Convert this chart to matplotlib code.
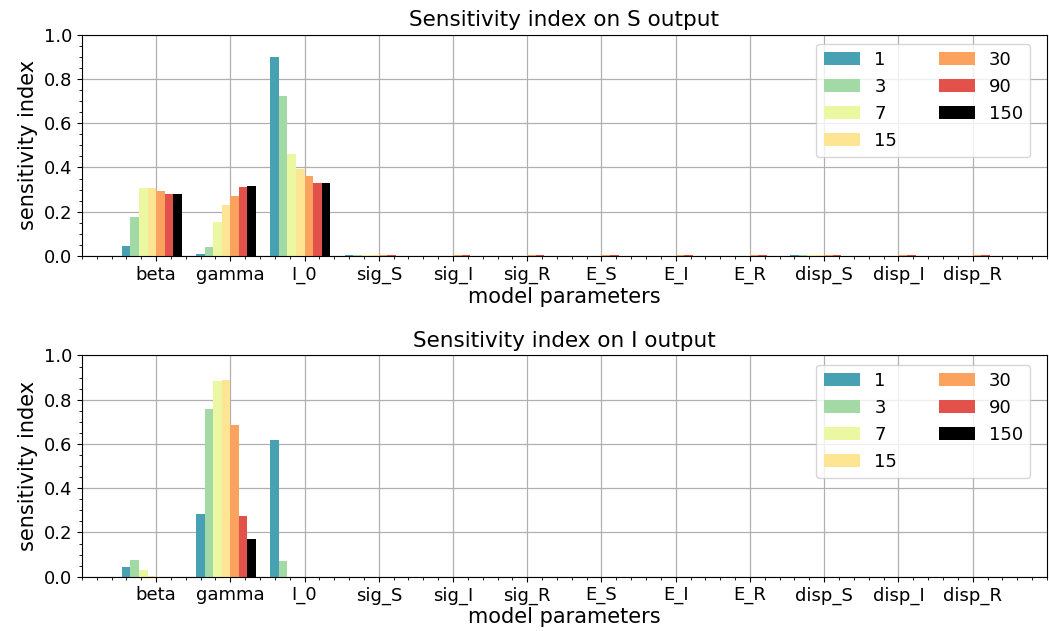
import numpy as np
import matplotlib.pyplot as plt

params = ["beta", "gamma", "I_0", "sig_S", "sig_I", "sig_R",
          "E_S", "E_I", "E_R", "disp_S", "disp_I", "disp_R"]
days = ["1", "3", "7", "15", "30", "90", "150"]
colors = ["#48a0b3", "#a3d9a4", "#ebf7a1", "#fde593", "#fba35e", "#e2524b", "#000000"]

# sensitivity on S output, one row per day
s_index = [
    [0.044, 0.008, 0.900, 0.002, 0.001, 0.001, 0.001, 0.001, 0.001, 0.002, 0.001, 0.001],
    [0.175, 0.039, 0.724, 0.002, 0.001, 0.001, 0.001, 0.001, 0.001, 0.002, 0.001, 0.001],
    [0.307, 0.153, 0.461, 0.002, 0.001, 0.001, 0.001, 0.001, 0.001, 0.002, 0.001, 0.001],
    [0.307, 0.230, 0.393, 0.002, 0.001, 0.001, 0.001, 0.001, 0.001, 0.002, 0.001, 0.001],
    [0.293, 0.270, 0.361, 0.002, 0.002, 0.002, 0.002, 0.002, 0.002, 0.002, 0.002, 0.002],
    [0.279, 0.311, 0.329, 0.002, 0.002, 0.002, 0.002, 0.002, 0.002, 0.002, 0.002, 0.002],
    [0.279, 0.316, 0.329, 0.001, 0.001, 0.001, 0.001, 0.001, 0.001, 0.001, 0.001, 0.001],
]

# sensitivity on I output, one row per day
i_index = [
    [0.042, 0.282, 0.616, 0.001, 0.001, 0.001, 0.001, 0.001, 0.001, 0.001, 0.001, 0.001],
    [0.074, 0.756, 0.069, 0.001, 0.001, 0.001, 0.001, 0.001, 0.001, 0.001, 0.001, 0.001],
    [0.029, 0.883, 0.0, 0.0, 0.0, 0.0, 0.0, 0.0, 0.0, 0.0, 0.0, 0.0],
    [0.005, 0.887, 0.0, 0.0, 0.0, 0.0, 0.0, 0.0, 0.0, 0.0, 0.0, 0.0],
    [0.0, 0.684, 0.0, 0.0, 0.0, 0.0, 0.0, 0.0, 0.0, 0.0, 0.0, 0.0],
    [0.0, 0.273, 0.0, 0.0, 0.0, 0.0, 0.0, 0.0, 0.0, 0.0, 0.0, 0.0],
    [0.0, 0.169, 0.0, 0.0, 0.0, 0.0, 0.0, 0.0, 0.0, 0.0, 0.0, 0.0],
]

fig, axes = plt.subplots(2, 1, figsize=(10.49, 6.31), dpi=100)
fig.subplots_adjust(left=0.078, right=0.998, top=0.945, bottom=0.086, hspace=0.45)

x = np.arange(len(params))
w = 0.115

for ax, data, title in zip(axes, [s_index, i_index], ["S", "I"]):
    for k, (day, c) in enumerate(zip(days, colors)):
        ax.bar(x + (k - 3.5) * w, data[k], width=w, color=c, label=day, zorder=2)
    ax.set_title(f"Sensitivity index on {title} output", fontsize=15.5)
    ax.set_xticks(x)
    ax.set_xticklabels(params, fontsize=13)
    ax.tick_params(axis="y", labelsize=13)
    ax.set_xlim(-1, 12)
    ax.set_ylim(0, 1.0)
    ax.minorticks_on()
    ax.grid(which="major", color="#b0b0b0", linewidth=0.9, zorder=0)
    ax.set_axisbelow(True)
    ax.set_xlabel("model parameters", fontsize=15, labelpad=2)
    ax.set_ylabel("sensitivity index", fontsize=15)
    ax.legend(ncol=2, loc="upper right", fontsize=13, handlelength=2.0,
              columnspacing=2.3, borderaxespad=0,
              bbox_to_anchor=(0.983, 0.959))

fig.savefig("out.png")
